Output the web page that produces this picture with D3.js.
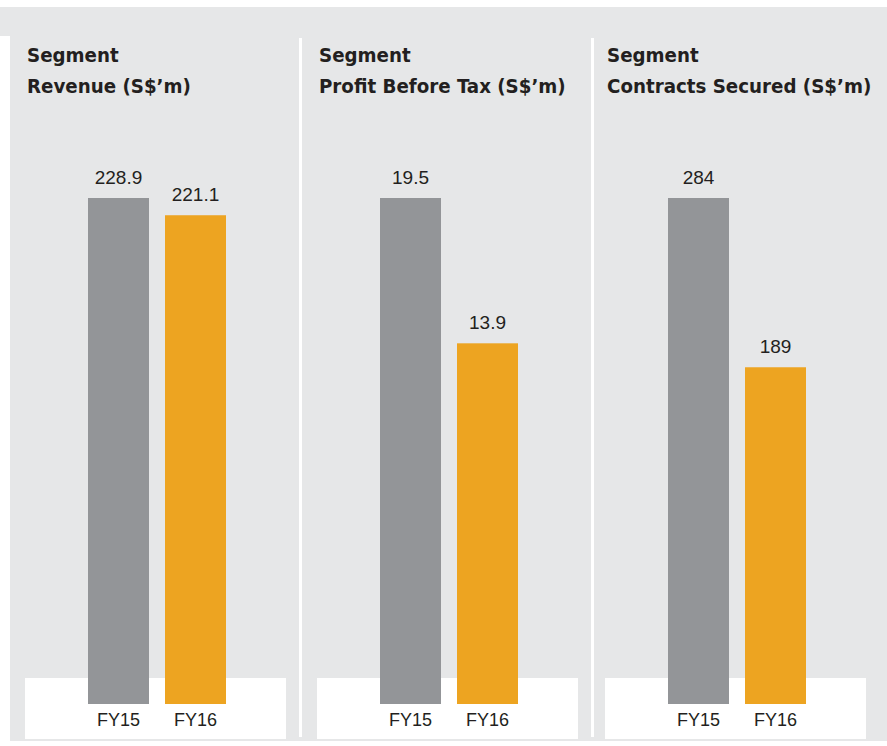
<!DOCTYPE html>
<html>
<head>
<meta charset="utf-8">
<script src="https://cdn.jsdelivr.net/npm/d3@7"></script>
<style>
  body { margin: 0; background: #fff; }
  text { font-family: "Liberation Sans", Arial, sans-serif; fill: #231f20; }
  .title { font-family: "DejaVu Sans Condensed", "DejaVu Sans", sans-serif; font-stretch: condensed; font-weight: bold; font-size: 20.3px; }
</style>
</head>
<body>
<script>
// data
const years = ["FY15", "FY16"]
const titles = [
  ["Segment", "Revenue (S$\u2019m)"],
  ["Segment", "Profit Before Tax (S$\u2019m)"],
  ["Segment", "Contracts Secured (S$\u2019m)"]
]
const revenue = [228.9, 221.1]
const profit = [19.5, 13.9]
const contracts = [284, 189]
const labels = [["228.9", "221.1"], ["19.5", "13.9"], ["284", "189"]]

const series = [revenue, profit, contracts]
const colors = ["#939598", "#eda421"]

let width = 887
let height = 746
const panelX = [25, 317, 605]
const panelW = 261

const svg = d3.select("body").append("svg")
  .attr("width", width)
  .attr("height", height)

// grey background
svg.append("rect").attr("x", 10).attr("y", 7).attr("width", width - 10).attr("height", 734).attr("fill", "#e6e7e8")
svg.append("rect").attr("x", 0).attr("y", 7).attr("width", 12).attr("height", 29).attr("fill", "#e6e7e8")

// white separators
;[299, 591].forEach(x => {
  svg.append("rect").attr("x", x).attr("y", 38).attr("width", 3).attr("height", 699).attr("fill", "#fff")
})

const x = d3.scaleBand().domain(years).range([63, 201]).paddingInner(0.208).paddingOuter(0)

series.forEach((vals, i) => {
  const g = svg.append("g").attr("transform", `translate(${panelX[i]},0)`)
  const y = d3.scaleLinear().domain([0, d3.max(vals)]).range([704, 198])

  g.append("rect").attr("x", 0).attr("y", 678).attr("width", panelW).attr("height", 61).attr("fill", "#fff")

  g.selectAll(".title").data(titles[i]).enter()
    .append("text")
    .attr("class", "title")
    .attr("x", 2)
    .attr("y", (d, j) => 62 + j * 31)
    .text(d => d)

  g.selectAll(".bar").data(vals).enter()
    .append("rect")
    .attr("x", (d, j) => x(years[j]))
    .attr("y", d => y(d))
    .attr("width", x.bandwidth())
    .attr("height", d => y(0) - y(d))
    .attr("fill", (d, j) => colors[j])

  g.selectAll(".val").data(vals).enter()
    .append("text")
    .attr("x", (d, j) => x(years[j]) + x.bandwidth() / 2)
    .attr("y", d => y(d) - 14)
    .attr("text-anchor", "middle")
    .style("font-size", "19px")
    .text((d, j) => labels[i][j])

  g.selectAll(".yr").data(years).enter()
    .append("text")
    .attr("x", d => x(d) + x.bandwidth() / 2)
    .attr("y", 726)
    .attr("text-anchor", "middle")
    .style("font-size", "18px")
    .text(d => d)
})
</script>
</body>
</html>
